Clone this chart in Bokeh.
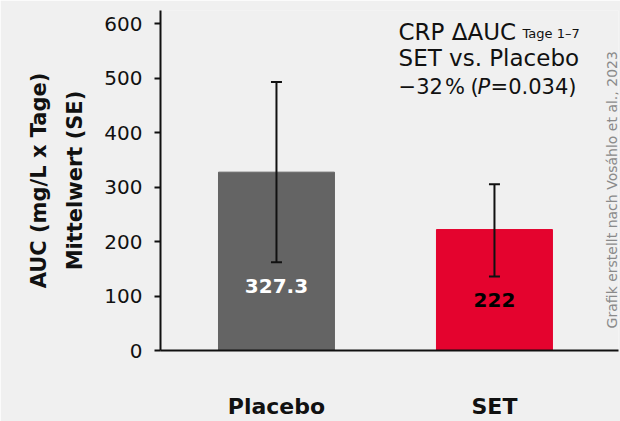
from bokeh.plotting import figure
from bokeh.models import ColumnDataSource, Whisker, Label, Range1d, FixedTicker, TeeHead
from bokeh.core.properties import value
from bokeh.embed import file_html
from bokeh.resources import INLINE

categories = ["Placebo", "SET"]
means = [327.3, 222.0]
se_low = [162.0, 136.0]
se_high = [493.0, 305.0]
value_labels = ["327.3", "222"]
bar_colors = ["#646464", "#e4032e"]
label_colors = ["#ffffff", "#000000"]
y_ticks = [0, 100, 200, 300, 400, 500, 600]

xs = list(range(len(categories)))
src = ColumnDataSource(dict(
    x=xs, top=means, lower=se_low, upper=se_high, color=bar_colors,
    lab=value_labels, lab_y=[l - 43 for l in se_low], lab_color=label_colors,
))

FONT = "DejaVu Sans"
INK = "#111111"
p = figure(width=620, height=421, output_backend="svg", toolbar_location=None,
           x_range=Range1d(-0.532, 1.569), y_range=Range1d(0, 624),
           min_border_left=160, min_border_right=2, min_border_top=10, min_border_bottom=71)
p.background_fill_color = "#f0f0f0"
p.border_fill_color = "#f0f0f0"
p.outline_line_color = None
p.grid.grid_line_color = None

p.vbar(x="x", top="top", width=0.532, color="color", source=src)
w = Whisker(base="x", lower="lower", upper="upper", source=src, line_color=INK, line_width=2,
            level="overlay",
            upper_head=TeeHead(size=11, line_width=2, line_color=INK),
            lower_head=TeeHead(size=11, line_width=2, line_color=INK))
p.add_layout(w)
p.text(x="x", y="lab_y", text="lab", text_color="lab_color", source=src,
       text_align="center", text_baseline="middle", text_font_size="20px",
       text_font_style="bold", text_font=value(FONT))

# axes
p.yaxis.ticker = FixedTicker(ticks=y_ticks)
p.yaxis.axis_line_width = 2
p.yaxis.axis_line_color = INK
p.yaxis.major_tick_out = 6
p.yaxis.major_tick_in = 0
p.yaxis.major_tick_line_width = 2
p.yaxis.major_tick_line_color = INK
p.yaxis.minor_tick_line_color = None
p.yaxis.major_label_standoff = 12
p.yaxis.major_label_text_font = FONT
p.yaxis.major_label_text_font_size = "20px"
p.yaxis.major_label_text_color = INK
p.yaxis.axis_label = "AUC (mg/L x Tage)\nMittelwert (SE)"
p.yaxis.axis_label_text_font = FONT
p.yaxis.axis_label_text_font_size = "21px"
p.yaxis.axis_label_text_font_style = "bold"
p.yaxis.axis_label_text_color = INK
p.yaxis.axis_label_text_line_height = 1.5
p.yaxis.axis_label_standoff = 14

p.xaxis.ticker = FixedTicker(ticks=xs)
p.xaxis.major_label_overrides = {i: c for i, c in zip(xs, categories)}
p.xaxis.axis_line_width = 2
p.xaxis.axis_line_color = INK
p.xaxis.major_tick_out = 0
p.xaxis.major_tick_in = 0
p.xaxis.minor_tick_line_color = None
p.xaxis.major_label_standoff = 43
p.xaxis.major_label_text_font = FONT
p.xaxis.major_label_text_font_size = "22px"
p.xaxis.major_label_text_font_style = "bold"
p.xaxis.major_label_text_color = INK

# annotation
def lab(text, x, y, size="23px", style="normal"):
    p.add_layout(Label(x=x, y=y, text=text, text_font=FONT, text_font_size=size,
                       text_font_style=style, text_color=INK, text_baseline="alphabetic"))

lab("CRP \u0394AUC", 0.560, 585)
lab("Tage 1\u20137", 1.129, 582, size="13px")
lab("SET vs. Placebo", 0.560, 536)
lab("\u221232\u200a%", 0.560, 484, size="21px")
lab("(", 0.890, 484, size="21px")
lab("P", 0.922, 484, size="21px", style="italic")
lab("=0.034)", 0.982, 484, size="21px")

p.add_layout(Label(x=1.541, y=295,
                   text="Grafik erstellt nach Vos\u00e1hlo et al., 2023", angle=90, angle_units="deg",
                   text_font=FONT, text_font_size="14px", text_color="#8a8a8a",
                   text_align="center", text_baseline="middle"))

open("out.html", "w").write(file_html(p, INLINE))
